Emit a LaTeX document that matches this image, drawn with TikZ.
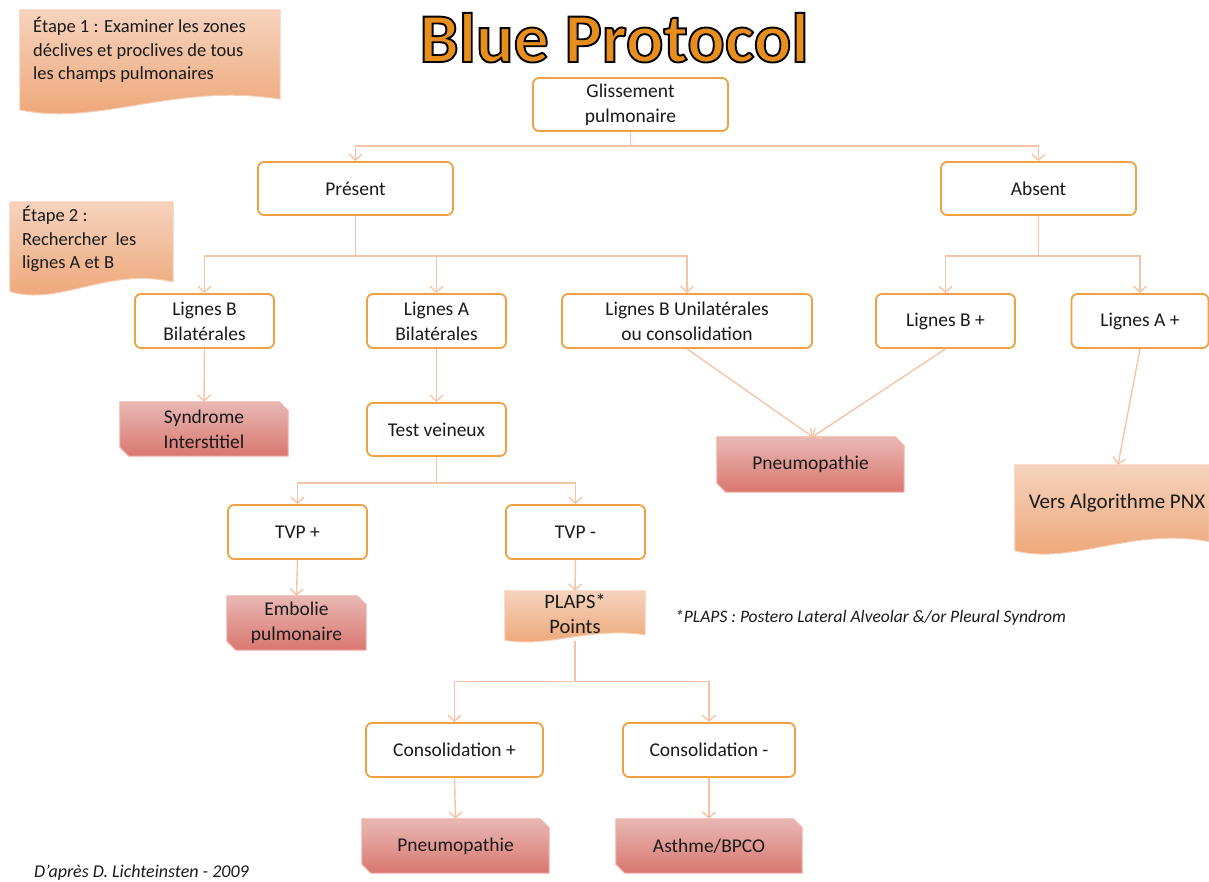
\documentclass[tikz,border=0pt]{standalone}
\usepackage{fontspec}
\setmainfont{Carlito}
\usetikzlibrary{arrows.meta,calc,backgrounds}
\definecolor{obord}{HTML}{F0A040}
\definecolor{connc}{HTML}{F5C4A6}
\definecolor{redtop}{HTML}{E9B8B4}
\definecolor{redbot}{HTML}{D9776F}
\definecolor{redline}{HTML}{F0B0A8}
\definecolor{doctop}{HTML}{F6D3BE}
\definecolor{docbot}{HTML}{EDA372}
\definecolor{docline}{HTML}{F6CDB4}
\definecolor{titleor}{HTML}{E88E1E}
\definecolor{txt}{HTML}{1A1A1A}
\newcommand\fs{\fontsize{19.5}{25}\selectfont}
\newcommand\snipshape[1]{%
  \path[redfill] (#1.north west) -- ([xshift=-9pt]#1.north east) -- ([yshift=-9pt]#1.north east)
    -- (#1.south east) -- ([xshift=9pt]#1.south west) -- ([yshift=9pt]#1.south west) -- cycle;}
\newcommand\docshape[1]{%
  \path[docfill] let \p1=(#1.north west), \p2=(#1.south east), \n1={\y1-\y2}, \n2={\x2-\x1} in
    (\x1,\y1) -- (\x2,\y1) -- (\x2,{\y2+0.16*\n1})
    .. controls ({\x1+0.6*\n2},{\y2+0.32*\n1}) and ({\x1+0.3*\n2},{\y2-0.1*\n1}) .. (\x1,{\y2+0.06*\n1}) -- cycle;}
\tikzset{
  box/.style={draw=obord, line width=1.8pt, rounded corners=6pt, fill=white, align=center, font=\fs, text=txt, inner sep=0pt},
  outc/.style={align=center, font=\fs, text=txt, inner sep=0pt},
  shp/.style={inner sep=0pt},
  conn/.style={draw=connc, line width=1.4pt, -{Straight Barb[length=6pt,width=13pt]}},
  redfill/.style={top color=redtop, bottom color=redbot, draw=redline, line width=1pt},
  docfill/.style={top color=doctop, bottom color=docbot, draw=docline, line width=1pt},
  doctext/.style={align=left, font=\fontsize{18.5}{23.5}\selectfont, text=txt, inner sep=0pt},
}
\begin{document}
\begin{tikzpicture}[x=1pt,y=-1pt]
\useasboundingbox (0,0) rectangle (1209,881);
% title
\node[anchor=base, font=\fontsize{70}{70}\selectfont\bfseries] (title) at (614,62) {\textcolor{titleor}{\special{pdf:code 0 0 0 RG 2 Tr 1.9 w}Blue Protocol\special{pdf:code 0 Tr}}};
% rounded boxes
\node[box, minimum width=195pt, minimum height=53pt] (glis) at (630.5,104.5) {Glissement\\pulmonaire};
\node[box, minimum width=195pt, minimum height=53pt] (pres) at (355.5,188.5) {Présent};
\node[box, minimum width=195pt, minimum height=53pt] (abs) at (1038.5,188.5) {Absent};
\node[box, minimum width=139pt, minimum height=54pt] (lbb) at (204.5,321) {Lignes B\\Bilatérales};
\node[box, minimum width=139pt, minimum height=54pt] (lab) at (436.5,321) {Lignes A\\Bilatérales};
\node[box, minimum width=250pt, minimum height=54pt] (lbu) at (687,321) {Lignes B Unilatérales\\ou consolidation};
\node[box, minimum width=139pt, minimum height=54pt] (lbp) at (945.5,321) {Lignes B +};
\node[box, minimum width=137pt, minimum height=54pt] (lap) at (1140,321) {Lignes A +};
\node[box, minimum width=139pt, minimum height=53pt] (tv) at (436.5,429.5) {Test veineux};
\node[box, minimum width=139pt, minimum height=54pt] (tvpp) at (297.5,532) {TVP +};
\node[box, minimum width=139pt, minimum height=54pt] (tvpm) at (575.5,532) {TVP -};
\node[box, minimum width=177pt, minimum height=54pt] (cp) at (454.5,750) {Consolidation +};
\node[box, minimum width=172pt, minimum height=54pt] (cm) at (709,750) {Consolidation -};
% outcome boxes
\node[outc, minimum width=168pt, minimum height=54pt] (syn) at (204,429) {Syndrome\\Interstitiel};
\node[outc, minimum width=187pt, minimum height=55pt] (pn1) at (810.5,464.5) {Pneumopathie};
\node[outc, minimum width=139pt, minimum height=54pt] (emb) at (296.5,623) {Embolie\\pulmonaire};
\node[outc, minimum width=187pt, minimum height=54pt] (pn2) at (455.5,846) {Pneumopathie};
\node[outc, minimum width=186pt, minimum height=54pt] (ast) at (709,846) {Asthme/BPCO};
% document shapes
\node[shp, minimum width=260pt, minimum height=106pt] (e1) at (150,63) {};
\node[shp, minimum width=163pt, minimum height=95pt] (e2) at (91.5,249.5) {};
\node[shp, minimum width=140pt, minimum height=52pt] (plaps) at (575,617) {};
\node[shp, minimum width=194pt, minimum height=91pt] (pnx) at (1112,510.5) {};
\begin{scope}[on background layer]
  \snipshape{syn}\snipshape{pn1}\snipshape{emb}\snipshape{pn2}\snipshape{ast}
  \docshape{e1}\docshape{e2}\docshape{plaps}\docshape{pnx}
\end{scope}
\node[doctext, anchor=north west] (e1t) at (33,17) {Étape 1 : Examiner les zones\\déclives et proclives de tous\\les champs pulmonaires};
\node[doctext, anchor=north west] (e2t) at (22,206) {Étape 2 :\\Rechercher\ \ les\\lignes A et B};
\node[outc, font=\fontsize{20.5}{25}\selectfont] (plapst) at (575,614) {PLAPS*\\Points};
\node[outc, font=\fontsize{21}{24}\selectfont] (pnxt) at (1117,503) {Vers Algorithme PNX};
% notes
\node[anchor=west, inner sep=0pt, text=txt, font=\fontsize{17.5}{20}\selectfont\itshape] (fn) at (675,618) {*PLAPS : Postero Lateral Alveolar \&/or Pleural Syndrom};
\node[anchor=west, inner sep=0pt, text=txt, font=\fontsize{18}{20}\selectfont\itshape] (cred) at (34,873) {D’après D. Lichteinsten - 2009};
% connectors
\draw[conn] (glis.south) -- ++(0,14) -| (pres.north);
\draw[conn] (glis.south) -- ++(0,14) -| (abs.north);
\draw[conn] (pres.south) -- ++(0,40) -| (lbb.north);
\draw[conn] (pres.south) -- ++(0,40) -| (lab.north);
\draw[conn] (pres.south) -- ++(0,40) -| (lbu.north);
\draw[conn] (abs.south) -- ++(0,40) -| (lbp.north);
\draw[conn] (abs.south) -- ++(0,40) -| (lap.north);
\draw[conn] (lbb.south) -- (syn.north);
\draw[conn] (lab.south) -- (tv.north);
\draw[conn] (lbu.south) -- ([xshift=2pt]pn1.north);
\draw[conn] (lbp.south) -- ([xshift=2pt]pn1.north);
\draw[conn] (lap.south) -- ([xshift=6pt]pnx.north);
\draw[conn] (tv.south) -- ++(0,26) -| (tvpp.north);
\draw[conn] (tv.south) -- ++(0,26) -| (tvpm.north);
\draw[conn] (tvpp.south) -- (emb.north);
\draw[conn] (tvpm.south) -- (plaps.north);
\draw[conn] ([yshift=2pt]plaps.south) -- ++(0,40) -| (cp.north);
\draw[conn] ([yshift=2pt]plaps.south) -- ++(0,40) -| (cm.north);
\draw[conn] (cp.south) -- (pn2.north);
\draw[conn] (cm.south) -- (ast.north);
\end{tikzpicture}
\end{document}
